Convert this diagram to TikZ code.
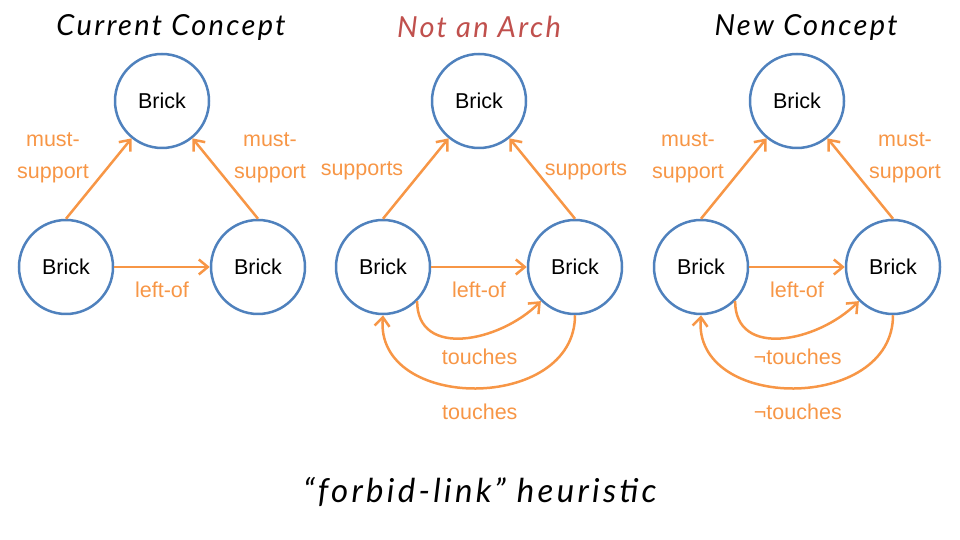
\documentclass[tikz,border=0pt]{standalone}
\usepackage{fontspec}
\setmainfont{Liberation Sans}
\newfontfamily\handfont{Lato}
\usetikzlibrary{arrows.meta}
\definecolor{Accent-1}{RGB}{79,129,189}
\definecolor{Accent-2}{RGB}{192,80,77}
\definecolor{Accent-6}{RGB}{247,150,70}

\begin{document}
\begin{tikzpicture}[x=1pt,y=1pt]
    \tikzset{ brk/.style ={draw=Accent-1, circle, line width=2.5pt, minimum size=94pt, inner sep=0pt, text=black, font=\fontsize{21.5}{26}\selectfont} }
    \tikzset{ lnk/.style ={draw=Accent-6, line width=2.5pt, -{Straight Barb[length=9pt,width=15pt]}} }
    \tikzset{ lbl/.style ={text=Accent-6, align=center, font=\fontsize{21.5}{32}\selectfont} }
    \tikzset{ ttl/.style ={font=\handfont\itshape\addfontfeatures{LetterSpace=8}\fontsize{29}{34}\selectfont} }

    \useasboundingbox (0,0) rectangle (960,540);

    % current concept
    \node[ttl] (cur_ttl) at (171,513) {Current Concept};
    \node[brk] (cur_t) at (162,439) {Brick};
    \node[brk] (cur_l) at ( 66,273) {Brick};
    \node[brk] (cur_r) at (258,273) {Brick};
    \node[lbl] (cur_ms1) at ( 53,382) {must-\\support};
    \node[lbl] (cur_ms2) at (270,382) {must-\\support};

    \draw[lnk] (cur_l.north) -- (cur_t);
    \draw[lnk] (cur_r.north) -- (cur_t);
    \draw[lnk] (cur_l) -- (cur_r) node [lbl, midway, below=10pt] {left-of};

    % near miss
    \node[ttl, text=Accent-2] (not_ttl) at (479,513) {Not an Arch};
    \node[brk] (not_t) at (479,439) {Brick};
    \node[brk] (not_l) at (383,273) {Brick};
    \node[brk] (not_r) at (575,273) {Brick};
    \node[lbl] (not_sp1) at (362,369) {supports};
    \node[lbl] (not_sp2) at (586,369) {supports};

    \draw[lnk] (not_l.north) -- (not_t);
    \draw[lnk] (not_r.north) -- (not_t);
    \draw[lnk] (not_l) -- (not_r) node [lbl, midway, below=10pt] {left-of};
    \draw[lnk] (not_l.-45) to[out=-90, in=-135, looseness=1.2] node [lbl, midway, below=6pt, xshift=16pt] {touches} (not_r.-135);
    \draw[lnk] (not_r.south) to[out=-90, in=-95, looseness=1.3] node [lbl, midway, below=11pt, xshift=4pt] {touches} (not_l.south);

    % new concept
    \node[ttl] (new_ttl) at (806,513) {New Concept};
    \node[brk] (new_t) at (797,439) {Brick};
    \node[brk] (new_l) at (701,273) {Brick};
    \node[brk] (new_r) at (893,273) {Brick};
    \node[lbl] (new_ms1) at (688,382) {must-\\support};
    \node[lbl] (new_ms2) at (905,382) {must-\\support};

    \draw[lnk] (new_l.north) -- (new_t);
    \draw[lnk] (new_r.north) -- (new_t);
    \draw[lnk] (new_l) -- (new_r) node [lbl, midway, below=10pt] {left-of};
    \draw[lnk] (new_l.-45) to[out=-90, in=-135, looseness=1.2] node [lbl, midway, below=6pt, xshift=16pt] {¬touches} (new_r.-135);
    \draw[lnk] (new_r.south) to[out=-90, in=-95, looseness=1.3] node [lbl, midway, below=11pt, xshift=4pt] {¬touches} (new_l.south);

    \node[ttl, font=\handfont\itshape\addfontfeatures{LetterSpace=10}\fontsize{33}{38}\selectfont] (heur) at (480,48) {“forbid-link” heuristic};
\end{tikzpicture}
\end{document}
